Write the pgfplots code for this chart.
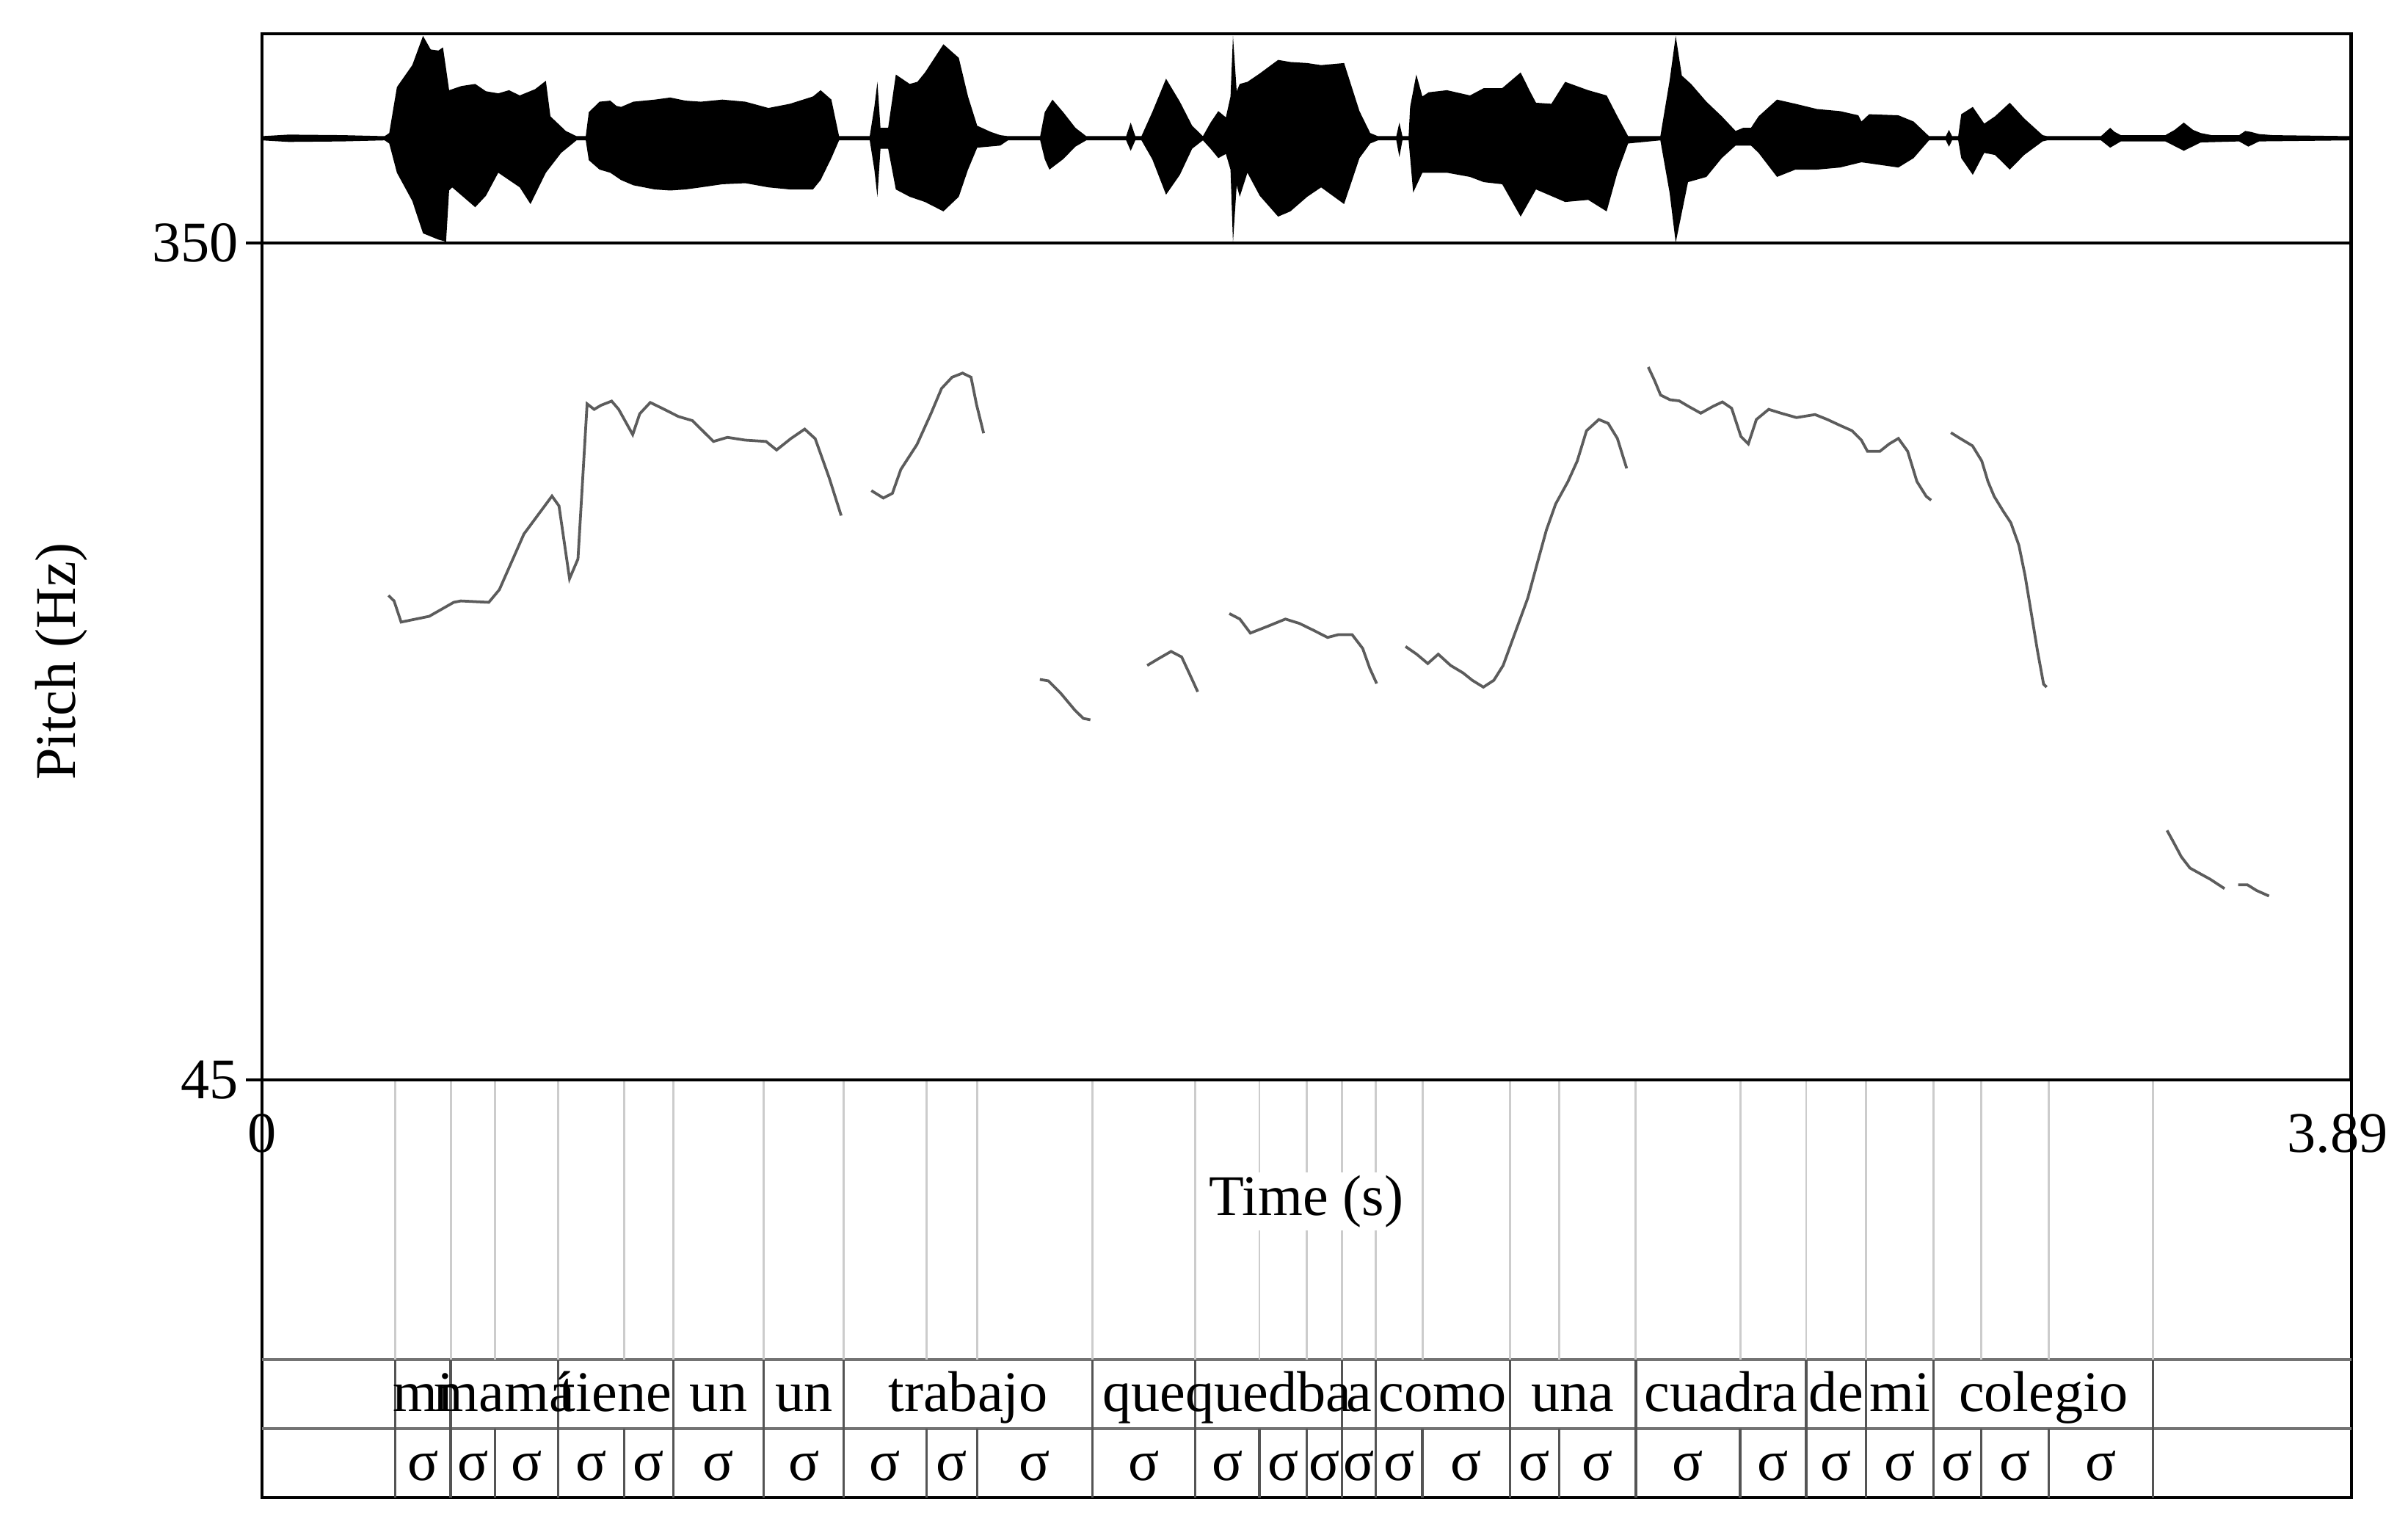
\documentclass[border=0pt]{standalone}
\usepackage{fontspec}
\setmainfont{Liberation Serif}
\usepackage{pgfplots}
\pgfplotsset{compat=1.18}
\definecolor{pitchcol}{gray}{0.36}
\definecolor{bndlight}{gray}{0.80}
\definecolor{bnddark}{gray}{0.33}
\definecolor{tierline}{gray}{0.45}
\begin{document}
\fontsize{9.35pt}{11pt}\selectfont
\begin{tikzpicture}[font=\fontsize{9.35pt}{11pt}\selectfont]
\path (0,0) rectangle (392pt,250.25pt);
\pgfplotsset{every axis/.append style={scale only axis, width=340.125pt, xmin=0, xmax=3.89,
  axis line style={line width=0.5pt}, /pgf/number format/assume math mode=true}}
% ---------------- tiers (drawn first so that the time label lies over the boundary lines) ----------------
\begin{axis}[at={(42.625pt,6.5pt)}, anchor=south west, height=68pt, ymin=0, ymax=272,
  xtick=\empty, ytick=\empty, extra y ticks={45,90}, extra y tick labels={},
  extra y tick style={grid=major, major grid style={tierline, line width=0.45pt}, major tick length=0pt},
  unbounded coords=jump, clip=false]
\addplot[bndlight, line width=0.35pt] coordinates {
(0.2487,90) (0.2487,272) (0.2487,nan) (0.3516,90) (0.3516,272) (0.3516,nan) (0.4344,90) (0.4344,272) (0.4344,nan)
(0.5516,90) (0.5516,272) (0.5516,nan) (0.6745,90) (0.6745,272) (0.6745,nan) (0.7660,90) (0.7660,272) (0.7660,nan)
(0.9346,90) (0.9346,272) (0.9346,nan) (1.0833,90) (1.0833,272) (1.0833,nan) (1.2376,90) (1.2376,272) (1.2376,nan)
(1.3319,90) (1.3319,272) (1.3319,nan) (1.5463,90) (1.5463,272) (1.5463,nan) (1.7378,90) (1.7378,272) (1.7378,nan)
(1.8573,90) (1.8573,272) (1.8573,nan) (1.9456,90) (1.9456,272) (1.9456,nan) (2.0110,90) (2.0110,272) (2.0110,nan)
(2.0739,90) (2.0739,272) (2.0739,nan) (2.1608,90) (2.1608,272) (2.1608,nan) (2.3237,90) (2.3237,272) (2.3237,nan)
(2.4152,90) (2.4152,272) (2.4152,nan) (2.5581,90) (2.5581,272) (2.5581,nan) (2.7524,90) (2.7524,272) (2.7524,nan)
(2.8753,90) (2.8753,272) (2.8753,nan) (2.9868,90) (2.9868,272) (2.9868,nan) (3.1126,90) (3.1126,272) (3.1126,nan)
(3.2012,90) (3.2012,272) (3.2012,nan) (3.3269,90) (3.3269,272) (3.3269,nan) (3.5213,90) (3.5213,272) (3.5213,nan)
};
\addplot[bnddark, line width=0.4pt] coordinates {
(0.2487,45) (0.2487,90) (0.2487,nan) (0.3516,45) (0.3516,90) (0.3516,nan) (0.5516,45) (0.5516,90) (0.5516,nan)
(0.7660,45) (0.7660,90) (0.7660,nan) (0.9346,45) (0.9346,90) (0.9346,nan) (1.0833,45) (1.0833,90) (1.0833,nan)
(1.5463,45) (1.5463,90) (1.5463,nan) (1.7378,45) (1.7378,90) (1.7378,nan) (2.0110,45) (2.0110,90) (2.0110,nan)
(2.0739,45) (2.0739,90) (2.0739,nan) (2.3237,45) (2.3237,90) (2.3237,nan) (2.5581,45) (2.5581,90) (2.5581,nan)
(2.8753,45) (2.8753,90) (2.8753,nan) (2.9868,45) (2.9868,90) (2.9868,nan) (3.1126,45) (3.1126,90) (3.1126,nan)
(3.5213,45) (3.5213,90) (3.5213,nan)
};
\addplot[bnddark, line width=0.4pt] coordinates {
(0.2487,0) (0.2487,45) (0.2487,nan) (0.3516,0) (0.3516,45) (0.3516,nan) (0.4344,0) (0.4344,45) (0.4344,nan)
(0.5516,0) (0.5516,45) (0.5516,nan) (0.6745,0) (0.6745,45) (0.6745,nan) (0.7660,0) (0.7660,45) (0.7660,nan)
(0.9346,0) (0.9346,45) (0.9346,nan) (1.0833,0) (1.0833,45) (1.0833,nan) (1.2376,0) (1.2376,45) (1.2376,nan)
(1.3319,0) (1.3319,45) (1.3319,nan) (1.5463,0) (1.5463,45) (1.5463,nan) (1.7378,0) (1.7378,45) (1.7378,nan)
(1.8573,0) (1.8573,45) (1.8573,nan) (1.9456,0) (1.9456,45) (1.9456,nan) (2.0110,0) (2.0110,45) (2.0110,nan)
(2.0739,0) (2.0739,45) (2.0739,nan) (2.1608,0) (2.1608,45) (2.1608,nan) (2.3237,0) (2.3237,45) (2.3237,nan)
(2.4152,0) (2.4152,45) (2.4152,nan) (2.5581,0) (2.5581,45) (2.5581,nan) (2.7524,0) (2.7524,45) (2.7524,nan)
(2.8753,0) (2.8753,45) (2.8753,nan) (2.9868,0) (2.9868,45) (2.9868,nan) (3.1126,0) (3.1126,45) (3.1126,nan)
(3.2012,0) (3.2012,45) (3.2012,nan) (3.3269,0) (3.3269,45) (3.3269,nan) (3.5213,0) (3.5213,45) (3.5213,nan)
};
\addplot[draw=none, nodes near coords, point meta=explicit symbolic,
  every node near coord/.append style={inner sep=0pt, text depth=2.5pt, text height=6.5pt, text=black}]
coordinates {
(0.3002,45.5) [mi] (0.4516,45.5) [mamá] (0.6588,45.5) [tiene] (0.8503,45.5) [un] (1.0090,45.5) [un]
(1.3148,45.5) [trabajo] (1.6421,45.5) [que] (1.8744,45.5) [quedba] (2.0425,45.5) [a] (2.1988,45.5) [como]
(2.4409,45.5) [una] (2.7167,45.5) [cuadra] (2.9311,45.5) [de] (3.0497,45.5) [mi] (3.3170,45.5) [colegio]
};
\addplot[draw=none, nodes near coords, point meta=explicit symbolic,
  every node near coord/.append style={inner sep=0pt, text depth=2.5pt, text height=6.5pt, text=black}]
coordinates {
(0.3002,0.5) [σ] (0.3930,0.5) [σ] (0.4930,0.5) [σ] (0.6131,0.5) [σ] (0.7203,0.5) [σ] (0.8503,0.5) [σ]
(1.0090,0.5) [σ] (1.1605,0.5) [σ] (1.2848,0.5) [σ] (1.4391,0.5) [σ] (1.6421,0.5) [σ] (1.7976,0.5) [σ]
(1.9015,0.5) [σ] (1.9783,0.5) [σ] (2.0425,0.5) [σ] (2.1174,0.5) [σ] (2.2423,0.5) [σ] (2.3695,0.5) [σ]
(2.4867,0.5) [σ] (2.6553,0.5) [σ] (2.8139,0.5) [σ] (2.9311,0.5) [σ] (3.0497,0.5) [σ] (3.1569,0.5) [σ]
(3.2641,0.5) [σ] (3.4241,0.5) [σ]
};
\end{axis}
% ---------------- waveform (upper envelope left to right, then lower envelope right to left) ----------------
\begin{axis}[at={(42.625pt,210.75pt)}, anchor=south west, height=34pt, ymin=-1, ymax=1,
  xtick=\empty, ytick=\empty]
\addplot[fill=black, draw=none] coordinates {
(0.0000,0.02) (0.0500,0.035) (0.1500,0.03) (0.2287,0.02) (0.2372,0.05) (0.2515,0.49) (0.2801,0.70) (0.3001,0.98) (0.3144,0.85) (0.3287,0.84) (0.3373,0.87) (0.3487,0.46) (0.3716,0.50) (0.3973,0.52) (0.4173,0.45) (0.4402,0.43) (0.4602,0.46) (0.4802,0.41) (0.5088,0.47) (0.5288,0.55) (0.5373,0.21) (0.5659,0.07) (0.5859,0.02) (0.6031,0.02) (0.6088,0.25) (0.6288,0.35) (0.6488,0.36) (0.6602,0.31) (0.6688,0.30) (0.6917,0.35) (0.7317,0.37) (0.7603,0.39) (0.7889,0.36) (0.8174,0.35) (0.8575,0.37) (0.9003,0.35) (0.9432,0.29) (0.9832,0.33) (1.0261,0.40) (1.0404,0.46) (1.0604,0.37) (1.0747,0.02) (1.1318,0.02) (1.1404,0.30) (1.1461,0.54) (1.1518,0.10) (1.1661,0.10) (1.1804,0.61) (1.2062,0.52) (1.2205,0.54) (1.2347,0.63) (1.2690,0.90) (1.2976,0.77) (1.3148,0.40) (1.3319,0.12) (1.3576,0.06) (1.3748,0.03) (1.3891,0.02) (1.4491,0.02) (1.4577,0.25) (1.4720,0.37) (1.4920,0.25) (1.5148,0.10) (1.5349,0.02) (1.6092,0.02) (1.6177,0.15) (1.6263,0.02) (1.6377,0.02) (1.6578,0.25) (1.6835,0.57) (1.7092,0.35) (1.7321,0.12) (1.7521,0.02) (1.7664,0.15) (1.7808,0.26) (1.7949,0.20) (1.8035,0.40) (1.8081,0.98) (1.8150,0.45) (1.8207,0.52) (1.8350,0.54) (1.8579,0.62) (1.8921,0.75) (1.9150,0.73) (1.9464,0.72) (1.9722,0.70) (2.0150,0.72) (2.0436,0.26) (2.0636,0.05) (2.0779,0.02) (2.1122,0.02) (2.1179,0.15) (2.1236,0.02) (2.1351,0.02) (2.1379,0.30) (2.1494,0.61) (2.1608,0.40) (2.1723,0.44) (2.2065,0.46) (2.2494,0.41) (2.2751,0.48) (2.3094,0.48) (2.3437,0.63) (2.3610,0.45) (2.3723,0.34) (2.4009,0.33) (2.4266,0.54) (2.4695,0.46) (2.5038,0.41) (2.5238,0.21) (2.5438,0.02) (2.6038,0.02) (2.6210,0.55) (2.6324,0.98) (2.6438,0.60) (2.6610,0.52) (2.6896,0.35) (2.7182,0.21) (2.7439,0.07) (2.7582,0.10) (2.7725,0.10) (2.7867,0.21) (2.8210,0.37) (2.8553,0.33) (2.8954,0.28) (2.9382,0.26) (2.9725,0.22) (2.9782,0.16) (2.9925,0.23) (3.0469,0.22) (3.0754,0.16) (3.1040,0.02) (3.1354,0.02) (3.1412,0.08) (3.1469,0.02) (3.1584,0.02) (3.1640,0.23) (3.1855,0.30) (3.2069,0.14) (3.2269,0.21) (3.2544,0.34) (3.2812,0.19) (3.3155,0.03) (3.3241,0.02) (3.4241,0.02) (3.4327,0.06) (3.4413,0.10) (3.4498,0.06) (3.4613,0.03) (3.5441,0.03) (3.5613,0.08) (3.5784,0.15) (3.5956,0.08) (3.6099,0.05) (3.6299,0.03) (3.6814,0.03) (3.6928,0.07) (3.7042,0.06) (3.7185,0.04) (3.7442,0.03) (3.8900,0.02)
(3.8900,-0.02) (3.7185,-0.03) (3.6985,-0.08) (3.6814,-0.03) (3.6099,-0.04) (3.5784,-0.12) (3.5441,-0.03) (3.4613,-0.03) (3.4413,-0.09) (3.4241,-0.02) (3.3241,-0.02) (3.3155,-0.03) (3.2812,-0.16) (3.2544,-0.30) (3.2269,-0.16) (3.2069,-0.14) (3.1855,-0.35) (3.1640,-0.19) (3.1584,-0.02) (3.1469,-0.02) (3.1412,-0.08) (3.1354,-0.02) (3.1040,-0.02) (3.0754,-0.19) (3.0469,-0.28) (2.9925,-0.24) (2.9782,-0.23) (2.9382,-0.28) (2.8954,-0.30) (2.8553,-0.30) (2.8210,-0.37) (2.7867,-0.14) (2.7725,-0.07) (2.7439,-0.07) (2.7182,-0.19) (2.6896,-0.37) (2.6553,-0.42) (2.6324,-1.00) (2.6210,-0.52) (2.6038,-0.02) (2.5438,-0.05) (2.5238,-0.33) (2.5038,-0.70) (2.4695,-0.59) (2.4266,-0.61) (2.3723,-0.49) (2.3437,-0.75) (2.3094,-0.44) (2.2751,-0.42) (2.2494,-0.37) (2.2065,-0.33) (2.1608,-0.33) (2.1436,-0.52) (2.1351,-0.02) (2.1236,-0.02) (2.1179,-0.18) (2.1122,-0.02) (2.0779,-0.02) (2.0636,-0.05) (2.0436,-0.19) (2.0150,-0.63) (1.9722,-0.47) (1.9464,-0.56) (1.9150,-0.70) (1.8921,-0.75) (1.8579,-0.55) (1.8350,-0.33) (1.8207,-0.56) (1.8150,-0.45) (1.8081,-1.00) (1.8035,-0.30) (1.7949,-0.15) (1.7808,-0.19) (1.7664,-0.10) (1.7521,-0.02) (1.7321,-0.10) (1.7092,-0.35) (1.6835,-0.54) (1.6578,-0.20) (1.6377,-0.02) (1.6263,-0.02) (1.6177,-0.12) (1.6092,-0.02) (1.5349,-0.02) (1.5148,-0.08) (1.4920,-0.20) (1.4663,-0.30) (1.4577,-0.20) (1.4491,-0.02) (1.3891,-0.02) (1.3748,-0.07) (1.3319,-0.09) (1.3148,-0.30) (1.2976,-0.56) (1.2690,-0.70) (1.2347,-0.61) (1.2062,-0.56) (1.1804,-0.49) (1.1661,-0.10) (1.1518,-0.10) (1.1461,-0.56) (1.1404,-0.30) (1.1318,-0.02) (1.0747,-0.02) (1.0604,-0.19) (1.0404,-0.40) (1.0261,-0.49) (0.9832,-0.49) (0.9432,-0.47) (0.9003,-0.43) (0.8575,-0.44) (0.8174,-0.47) (0.7889,-0.49) (0.7603,-0.50) (0.7317,-0.49) (0.6917,-0.45) (0.6688,-0.40) (0.6488,-0.33) (0.6288,-0.30) (0.6088,-0.21) (0.6031,-0.02) (0.5859,-0.02) (0.5573,-0.14) (0.5288,-0.33) (0.5002,-0.63) (0.4802,-0.47) (0.4602,-0.40) (0.4402,-0.33) (0.4173,-0.55) (0.3973,-0.66) (0.3544,-0.47) (0.3487,-0.50) (0.3430,-0.99) (0.3287,-0.97) (0.3001,-0.91) (0.2801,-0.60) (0.2515,-0.33) (0.2372,-0.05) (0.2287,-0.02) (0.1500,-0.03) (0.0500,-0.035) (0.0000,-0.02)
};
\end{axis}
% ---------------- pitch ----------------
\begin{axis}[at={(42.625pt,74.5pt)}, anchor=south west, height=136.25pt, ymin=45, ymax=350,
  ytick={45,350}, yticklabels={45,350}, ytick align=outside, ytick pos=left,
  major tick length=2.6pt, ytick style={line width=0.5pt, black},
  yticklabel style={anchor=east, inner sep=1pt},
  xtick={0}, xticklabels={0}, xtick align=inside, xtick style={draw=none},
  xticklabel style={anchor=center, yshift=-8.75pt},
  extra x ticks={3.89}, extra x tick labels={3.89},
  extra x tick style={major tick length=0pt, xticklabel style={xshift=-2.2pt}},
  xlabel={Time (s)}, xlabel style={at={(axis description cs:0.5,-0.145)}, anchor=center, fill=white, inner sep=0.5pt},
  ylabel={Pitch (Hz)}, ylabel style={at={(axis description cs:-0.0959,0.5)}, anchor=center}]
\addplot[pitchcol, line width=0.45pt] coordinates {(0.2358,221.5) (0.2462,219.5) (0.2593,211.8) (0.3116,213.9) (0.3573,219.0) (0.3704,219.5) (0.4226,219.0) (0.4422,223.6) (0.4880,243.9) (0.5402,257.7) (0.5533,254.1) (0.5729,227.6) (0.5886,234.8) (0.6056,291.3) (0.6187,289.3) (0.6317,290.8) (0.6513,292.3) (0.6644,289.3) (0.6905,280.1) (0.7036,287.7) (0.7232,291.8) (0.7493,289.3) (0.7755,286.7) (0.8016,285.2) (0.8408,277.6) (0.8669,279.1) (0.8996,278.1) (0.9388,277.6) (0.9584,274.5) (0.9846,278.6) (1.0107,282.1) (1.0303,278.6) (1.0564,264.3) (1.0786,250.6)};
\addplot[pitchcol, line width=0.45pt] coordinates {(1.1348,259.7) (1.1571,257.0) (1.1740,258.7) (1.1897,267.4) (1.2198,276.5) (1.2459,287.8) (1.2655,296.9) (1.2851,301.0) (1.3047,302.5) (1.3204,301.0) (1.3309,290.8) (1.3439,280.6)};
\addplot[pitchcol, line width=0.45pt] coordinates {(1.4485,190.9) (1.4642,190.4) (1.4877,185.8) (1.5138,179.7) (1.5295,176.7) (1.5426,176.2)};
\addplot[pitchcol, line width=0.45pt] coordinates {(1.6484,196.0) (1.6706,198.6) (1.6928,201.1) (1.7125,199.1) (1.7294,192.0) (1.7425,186.4)};
\addplot[pitchcol, line width=0.45pt] coordinates {(1.8013,214.9) (1.8209,212.9) (1.8405,207.8) (1.8732,210.3) (1.9058,212.9) (1.9320,211.3) (1.9581,208.8) (1.9842,206.2) (2.0038,207.2) (2.0300,207.2) (2.0496,202.2) (2.0627,195.0) (2.0757,189.4)};
\addplot[pitchcol, line width=0.45pt] coordinates {(2.1294,202.9) (2.1501,200.1) (2.1708,196.7) (2.1903,200.1) (2.2133,196.0) (2.2363,193.3) (2.2536,190.6) (2.2743,188.1) (2.2938,190.6) (2.3111,196.0) (2.3341,208.3) (2.3571,220.6) (2.3743,233.0) (2.3916,245.3) (2.4088,254.8) (2.4318,263.0) (2.4491,270.5) (2.4663,281.5) (2.4893,285.6) (2.5066,284.2) (2.5238,278.7) (2.5411,267.8)};
\addplot[pitchcol, line width=0.45pt] coordinates {(2.5813,304.7) (2.5928,299.9) (2.6043,294.5) (2.6216,292.8) (2.6388,292.4) (2.6561,290.4) (2.6791,287.9) (2.7020,290.4) (2.7193,292.0) (2.7365,289.7) (2.7538,279.4) (2.7676,276.7) (2.7826,285.6) (2.8055,289.3) (2.8285,287.9) (2.8573,286.3) (2.8918,287.4) (2.9148,285.6) (2.9378,283.5) (2.9608,281.5) (2.9780,278.1) (2.9895,274.0) (3.0125,274.0) (3.0298,276.7) (3.0470,278.7) (3.0643,274.0) (3.0815,263.0) (3.0988,257.6) (3.1080,256.2)};
\addplot[pitchcol, line width=0.45pt] coordinates {(3.1448,280.8) (3.1620,278.7) (3.1850,276.0) (3.2022,270.5) (3.2138,263.0) (3.2253,257.6) (3.2425,252.1) (3.2563,248.0) (3.2713,239.8) (3.2828,228.8) (3.2943,215.2) (3.3058,201.5) (3.3173,189.2) (3.3230,188.1)};
\addplot[pitchcol, line width=0.45pt] coordinates {(3.5472,135.9) (3.5587,131.8) (3.5737,126.3) (3.5898,122.2) (3.6082,120.2) (3.6277,118.1) (3.6542,114.7)};
\addplot[pitchcol, line width=0.45pt] coordinates {(3.6795,116.1) (3.6967,116.1) (3.7140,114.0) (3.7370,112.0)};
\end{axis}
\end{tikzpicture}
\end{document}
